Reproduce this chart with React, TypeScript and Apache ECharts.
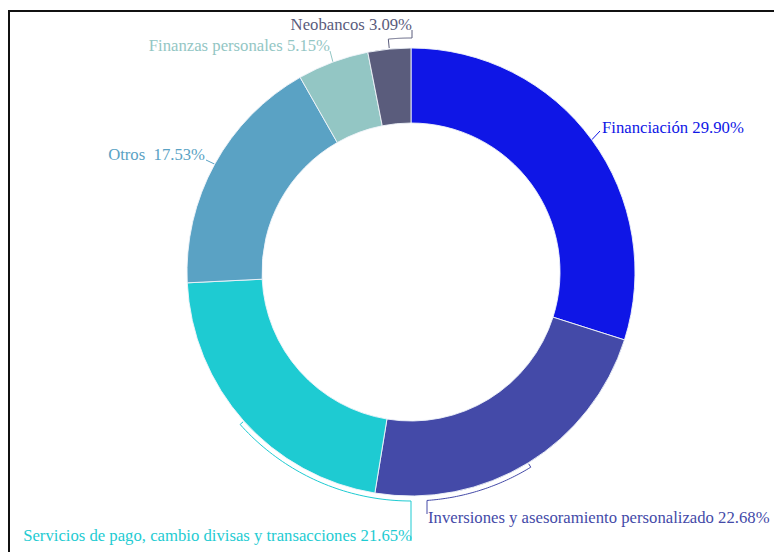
import React, { useEffect, useRef } from "react";
import * as echarts from "echarts";

const categories = [
  "Financiación",
  "Inversiones y asesoramiento personalizado",
  "Servicios de pago, cambio divisas y transacciones",
  "Otros ",
  "Finanzas personales",
  "Neobancos",
];
const values = [29.9, 22.68, 21.65, 17.53, 5.15, 3.09];
const colors = ["#0f16e6", "#444aa8", "#1ecbd2", "#5aa2c4", "#93c6c4", "#5a5c7c"];

// layout (not data)
const CX = 411;
const CY = 272;
const R_IN = 149;
const R_OUT = 224;
const FONT = '"Liberation Serif", "Times New Roman", serif';

type Placement = {
  x: number;
  y: number;
  align: "left" | "right";
  kind: "straight" | "bracket";
  lx: number;
  ly: number;
  rb?: number;
};

const placements: Placement[] = [
  { x: 602, y: 127, align: "left", kind: "straight", lx: 600, ly: 131 },
  { x: 428, y: 517, align: "left", kind: "bracket", rb: 229, lx: 427, ly: 514 },
  { x: 412, y: 535, align: "right", kind: "bracket", rb: 229, lx: 411, ly: 541 },
  { x: 205, y: 154, align: "right", kind: "straight", lx: 206, ly: 160 },
  { x: 330, y: 45, align: "right", kind: "straight", lx: 330, ly: 51 },
  { x: 412, y: 24, align: "right", kind: "bracket", rb: 234, lx: 412, ly: 30 },
];

export default function App() {
  const ref = useRef<HTMLDivElement>(null);

  useEffect(() => {
    if (!ref.current) return;
    const chart = echarts.init(ref.current, null, { renderer: "svg" });
    const total = values.reduce((a, b) => a + b, 0);
    const mids: number[] = [];
    let acc = 0;
    values.forEach((v) => {
      mids.push(((acc + v / 2) / total) * 360);
      acc += v;
    });
    const pt = (deg: number, r: number) => {
      const a = (deg * Math.PI) / 180;
      return [CX + r * Math.sin(a), CY - r * Math.cos(a)];
    };
    const linePoints = (i: number) => {
      const p = placements[i];
      const mid = mids[i];
      if (p.kind === "straight") return [pt(mid, R_OUT), [p.lx, p.ly]];
      const rb = p.rb as number;
      const s = (Math.asin((p.lx - CX) / rb) * 180) / Math.PI;
      let target: number;
      if (mid > 90 && mid < 270) target = 180 - s;
      else target = mid > 180 ? 360 + s : s;
      const pts: number[][] = [pt(mid, R_OUT + 1)];
      const n = 48;
      for (let k = 0; k <= n; k++) pts.push(pt(mid + ((target - mid) * k) / n, rb));
      pts.push([p.lx, p.ly]);
      return pts;
    };

    chart.setOption({
      animation: false,
      backgroundColor: "#ffffff",
      series: [
        {
          type: "pie",
          center: [CX, CY],
          radius: [R_IN, R_OUT],
          startAngle: 90,
          clockwise: true,
          avoidLabelOverlap: false,
          emphasis: { disabled: true },
          itemStyle: { borderColor: "rgba(240,244,250,0.9)", borderWidth: 1 },
          label: {
            show: true,
            position: "outside",
            fontFamily: FONT,
            fontSize: 16.7,
            formatter: (p: any) => `${p.name} ${p.value.toFixed(2)}%`,
          },
          labelLine: { show: true, smooth: false, lineStyle: { width: 1 } },
          labelLayout: (params: any) => {
            const i = params.dataIndex;
            const p = placements[i];
            return {
              x: p.x,
              y: p.y,
              align: p.align,
              verticalAlign: "middle",
              labelLinePoints: linePoints(i),
            };
          },
          data: categories.map((name, i) => ({
            name,
            value: values[i],
            itemStyle: { color: colors[i] },
            label: { color: colors[i] },
            labelLine: { lineStyle: { color: colors[i] } },
          })),
        },
      ],
    });
    return () => chart.dispose();
  }, []);

  return (
    <div
      style={{
        position: "absolute",
        left: 0,
        top: 0,
        width: 774,
        height: 552,
        overflow: "hidden",
        background: "#fff",
      }}
    >
      <div ref={ref} style={{ position: "absolute", left: 0, top: 0, width: 774, height: 552 }} />
      <div
        style={{
          position: "absolute",
          left: 8,
          top: 10,
          width: 800,
          height: 600,
          borderLeft: "2.5px solid #111",
          borderTop: "2.5px solid #111",
          pointerEvents: "none",
        }}
      />
    </div>
  );
}
